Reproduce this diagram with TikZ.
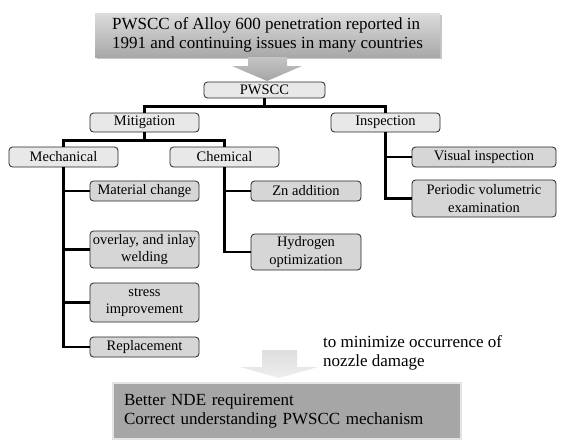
\documentclass[tikz,border=0pt]{standalone}
\usepackage{fontspec}
\setmainfont{Liberation Serif}
\usetikzlibrary{shadows}
\definecolor{boxA}{RGB}{232,232,232}
\definecolor{boxB}{RGB}{214,214,214}
\definecolor{topA}{RGB}{220,220,220}
\definecolor{topB}{RGB}{168,168,168}
\definecolor{arrA}{RGB}{196,196,196}
\definecolor{arrB}{RGB}{165,165,165}
\definecolor{arrC}{RGB}{222,222,222}
\definecolor{arrD}{RGB}{238,238,238}
\definecolor{botF}{RGB}{166,166,166}
\definecolor{botE}{RGB}{228,228,228}
\begin{document}
\begin{tikzpicture}[x=1pt,y=-1pt,
  conn/.style={line width=2.6pt,black},
  bx/.style={draw=black!85,line width=0.8pt,rounded corners=3.5pt,fill=boxA,inner sep=0pt,
    align=center,font=\fontsize{14.5}{17.5}\selectfont},
  leaf/.style={bx,fill=boxB},
  big/.style={font=\fontsize{17}{19}\selectfont,align=left}]
\useasboundingbox (0,0) rectangle (564,442);
% top box
\node[big,top color=topA,bottom color=topB,minimum width=345pt,minimum height=44pt,inner sep=0pt,
  drop shadow={shadow xshift=2pt,shadow yshift=-2pt,fill=black!45}] (top) at (267.5,35)
  {PWSCC of Alloy 600 penetration reported in\\1991 and continuing issues in many countries};
% top arrow
\shade[top color=arrA,bottom color=arrB] (248,57) -- (287,57) -- (287,66) -- (302,66) -- (267,81) -- (232,66) -- (248,66) -- cycle;
% tree nodes
\node[bx,minimum width=121pt,minimum height=16pt] (pw) at (264.5,90) {PWSCC};
\node[bx,minimum width=109pt,minimum height=19pt] (mit) at (144.5,122.5) {Mitigation};
\node[bx,minimum width=109pt,minimum height=19pt] (insp) at (385.5,122.5) {Inspection};
\node[bx,minimum width=109pt,minimum height=20pt] (mech) at (63.5,157) {Mechanical};
\node[bx,minimum width=109pt,minimum height=20pt] (chem) at (224.5,157) {Chemical};
\node[leaf,minimum width=109pt,minimum height=20pt] (mat) at (144.5,191) {Material change};
\node[leaf,minimum width=109pt,minimum height=37pt] (ovl) at (144.5,249.5) {overlay, and inlay\\welding};
\node[leaf,minimum width=109pt,minimum height=39pt] (str) at (144.5,302.5) {stress\\improvement};
\node[leaf,minimum width=109pt,minimum height=20pt] (rep) at (144.5,347) {Replacement};
\node[leaf,minimum width=110pt,minimum height=20pt] (zn) at (306,191) {Zn addition};
\node[leaf,minimum width=110pt,minimum height=36pt] (hyd) at (306,252) {Hydrogen\\optimization};
\node[leaf,minimum width=144pt,minimum height=20pt] (vis) at (484,157) {Visual inspection};
\node[leaf,minimum width=144pt,minimum height=37pt] (per) at (484,198.5) {Periodic volumetric\\examination};
% connectors
\draw[conn] (pw.south) -- ++(0,8) -| (mit.north);
\draw[conn] (pw.south) ++(0,8) -| (insp.north);
\draw[conn] (mit.south) -- ++(0,8) -| (mech.north);
\draw[conn] (mit.south) ++(0,8) -| (chem.north);
\draw[conn] (mech.south) |- (rep.west);
\draw[conn] (mech.south |- mat.west) -- (mat.west);
\draw[conn] (mech.south |- ovl.west) -- (ovl.west);
\draw[conn] (mech.south |- str.west) -- (str.west);
\draw[conn] (chem.south) |- (hyd.west);
\draw[conn] (chem.south |- zn.west) -- (zn.west);
\draw[conn] (insp.south) |- (per.west);
\draw[conn] (insp.south |- vis.west) -- (vis.west);
% bottom arrow
\shade[top color=arrC,bottom color=arrD] (262,350) -- (297,350) -- (297,367) -- (318,367) -- (279,378) -- (240,367) -- (262,367) -- cycle;
\node[big,anchor=west,inner sep=0pt] (note) at (323,352.5) {to minimize occurrence of\\nozzle damage};
% bottom box
\node[big,fill=botF,draw=botE,line width=2pt,anchor=north west,text width=326pt,inner xsep=11pt,
  minimum height=56pt,inner ysep=0pt] (res) at (112,382)
  {Better NDE requirement\\Correct understanding PWSCC mechanism};
\end{tikzpicture}
\end{document}
